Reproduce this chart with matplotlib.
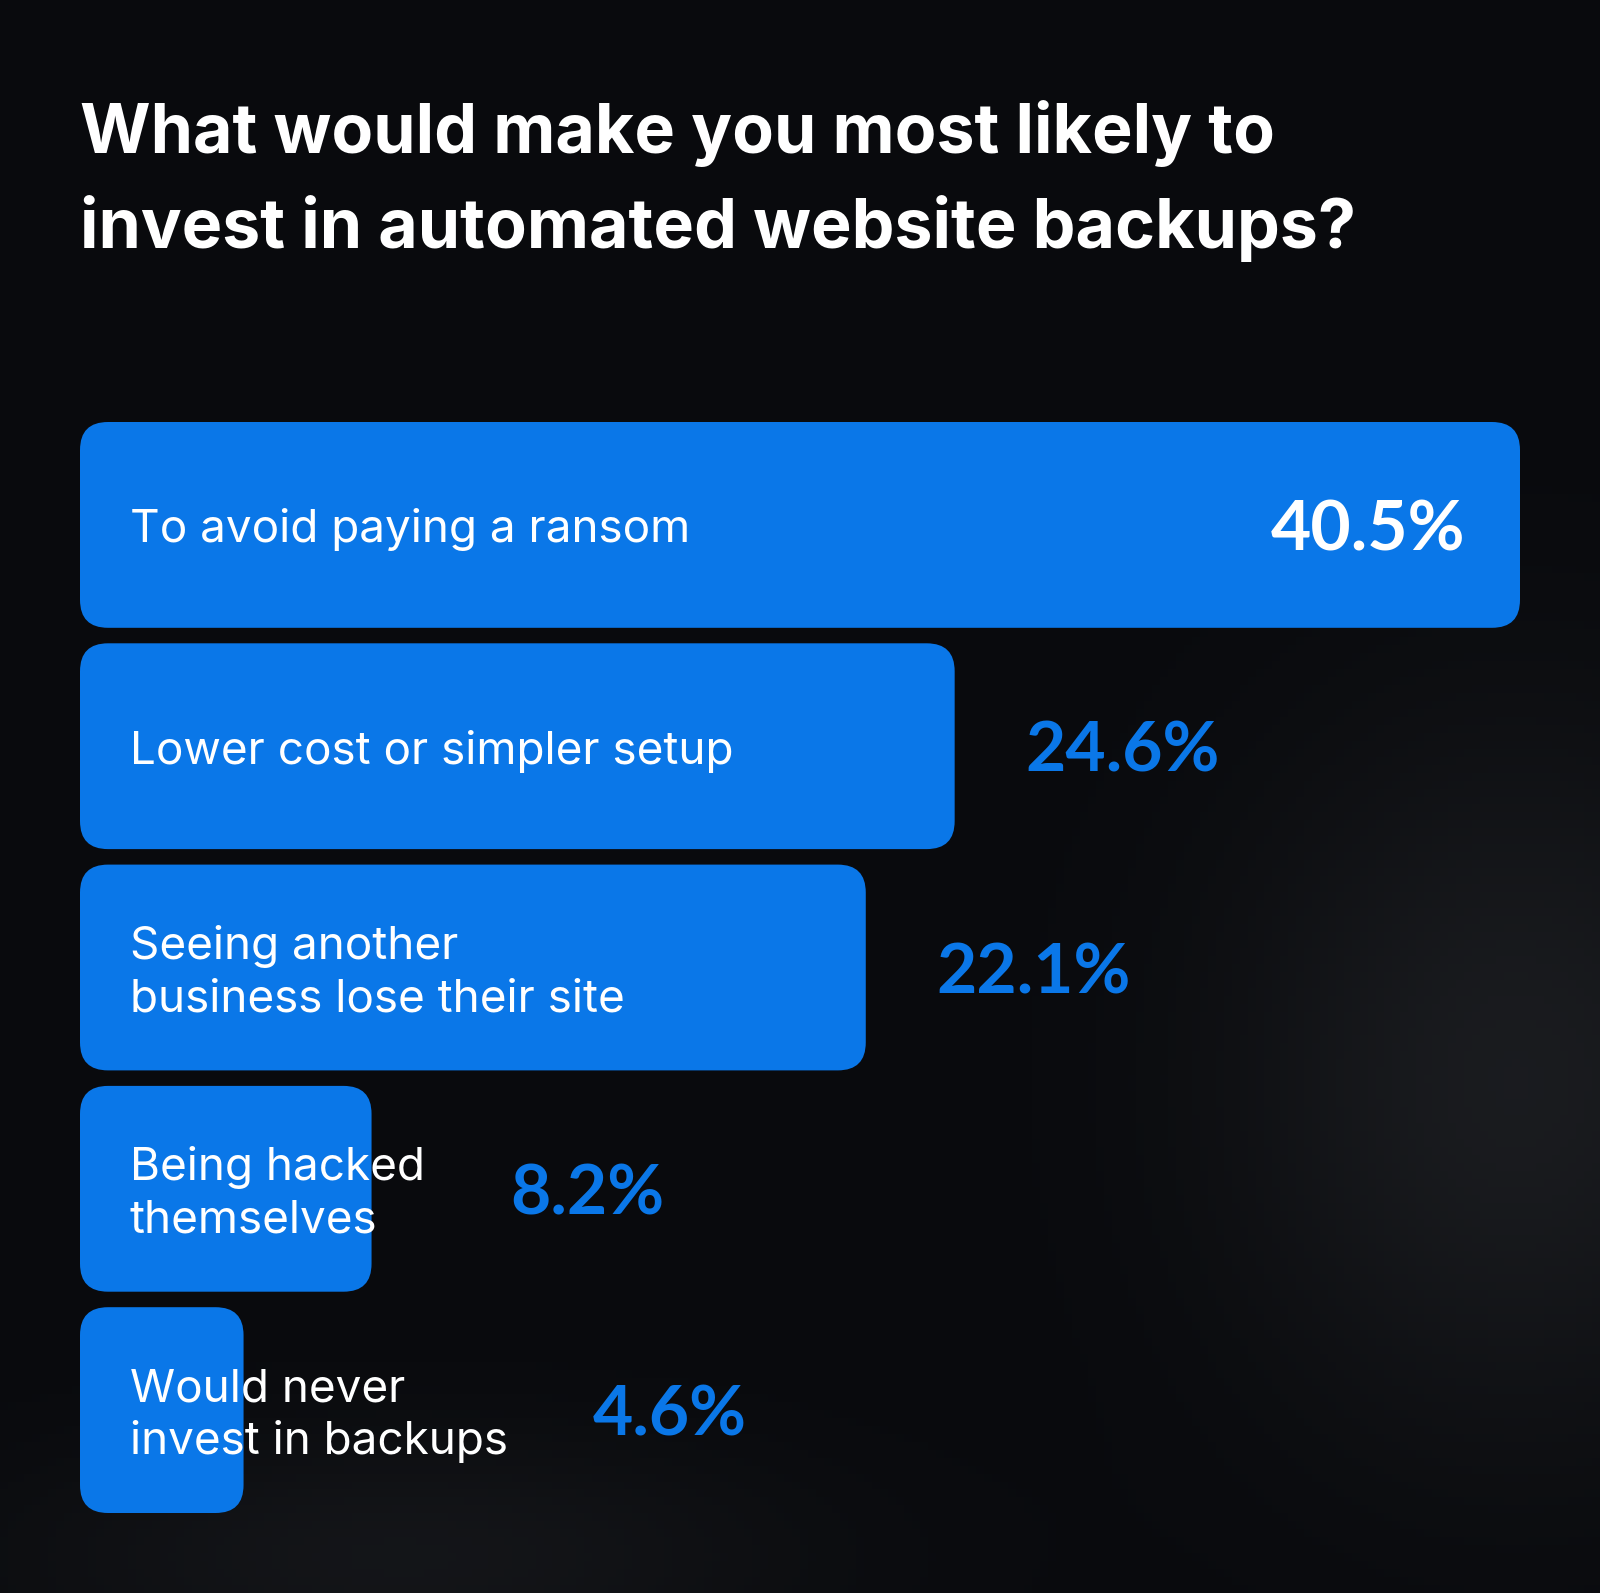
import matplotlib
matplotlib.use("Agg")
import matplotlib.pyplot as plt
import numpy as np
from matplotlib.patches import FancyBboxPatch
from matplotlib import transforms

# survey answers, top to bottom
labels = [
    "To avoid paying a ransom",
    "Lower cost or simpler setup",
    "Seeing another\nbusiness lose their site",
    "Being hacked\nthemselves",
    "Would never\ninvest in backups",
]
shares = [40.5, 24.6, 22.1, 8.2, 4.6]

title_lines = ["What would make you most likely to",
               "invest in automated website backups?"]

BG = "#090a0d"
BLUE = "#0a77e8"
W, H, DPI = 1600, 1593, 100

plt.rcParams['font.family'] = ['Lato', 'DejaVu Sans']

fig = plt.figure(figsize=(W / DPI, H / DPI), dpi=DPI, facecolor=BG)

# soft grey haze in the lower right, like the photo backdrop
bg_ax = fig.add_axes([0, 0, 1, 1])
bg_ax.axis('off')
gx, gy = np.meshgrid(np.linspace(0, 1, 200), np.linspace(0, 1, 200))
haze = 0.55 * np.exp(-(((gx - 0.95) / 0.18) ** 2 + ((gy - 0.32) / 0.22) ** 2)) \
    + 0.35 * np.exp(-(((gx - 0.25) / 0.25) ** 2 + ((gy - 0.02) / 0.08) ** 2))
base = np.array([9, 10, 13]) / 255
top = np.array([40, 42, 46]) / 255
img = base + haze[..., None] * (top - base)
bg_ax.imshow(img, extent=[0, 1, 0, 1], origin='lower', aspect='auto')

# axes placed so the bars start at x=80px and the top bar spans 80..1520px
left_px, right_px, top_px, bot_px = 80, 1520, 422, 1513
ax = fig.add_axes([left_px / W, 1 - bot_px / H, (right_px - left_px) / W, (bot_px - top_px) / H])
ax.patch.set_alpha(0)
ax.axis('off')

bar_h = 0.93
ypos = list(range(len(shares)))
bars = ax.barh(ypos, shares, height=bar_h, color=BLUE)
ax.set_xlim(0, max(shares))
ax.set_ylim(len(shares) - 1 + bar_h / 2, -bar_h / 2)

px_per_x = (right_px - left_px) / max(shares)
px_per_y = (bot_px - top_px) / (len(shares) - 1 + bar_h)
radius_px = 28

# swap plain bars for rounded ones
for b in bars:
    x0, y0, w, h = b.get_x(), b.get_y(), b.get_width(), b.get_height()
    b.set_visible(False)
    r = min(radius_px, w * px_per_x / 2) / px_per_x
    patch = FancyBboxPatch((x0, y0), w, h,
                           boxstyle=f"round,pad=0,rounding_size={r}",
                           mutation_aspect=px_per_x / px_per_y,
                           facecolor=BLUE, edgecolor='none')
    ax.add_patch(patch)

# title
for k, line in enumerate(title_lines):
    fig.text(80 / W, 1 - (153 + 95 * k) / H, line, family=['Inter', 'DejaVu Sans'],
             color='white', fontsize=49, fontweight='bold', va='baseline', ha='left')

fig.canvas.draw()
renderer = fig.canvas.get_renderer()

label_cap = 35
line_gap = 52
val_cap = 51
label_x_px = 130

for i, (lab, val) in enumerate(zip(labels, shares)):
    lines = lab.split("\n")
    n = len(lines)
    ends = []
    for j, line in enumerate(lines):
        dy = -(label_cap / 2 + (j - (n - 1) / 2) * line_gap)
        tr = transforms.offset_copy(ax.transData, fig=fig, x=0, y=dy, units='dots')
        t = ax.text((label_x_px - left_px) / px_per_x, i, line, color='white',
                    family=['Inter', 'DejaVu Sans'], fontsize=33, fontweight='normal',
                    va='baseline', ha='left', transform=tr)
        ends.append(t.get_window_extent(renderer).x1)
    label_end = max(ends)
    bar_end = ax.transData.transform((val, 0))[0]
    tr_v = transforms.offset_copy(ax.transData, fig=fig, x=0, y=-val_cap / 2, units='dots')
    if i == 0:
        xv = val - 55 / px_per_x
        ax.text(xv, i, f"{val}%", color='white', fontsize=50, fontweight='bold',
                va='baseline', ha='right', transform=tr_v)
    else:
        start_px = max(bar_end + 71, label_end + 85)
        xv = ax.transData.inverted().transform((start_px, 0))[0]
        ax.text(xv, i, f"{val}%", color=BLUE, fontsize=50, fontweight='bold',
                va='baseline', ha='left', transform=tr_v)

fig.savefig("out.png", dpi=DPI, facecolor=BG)
